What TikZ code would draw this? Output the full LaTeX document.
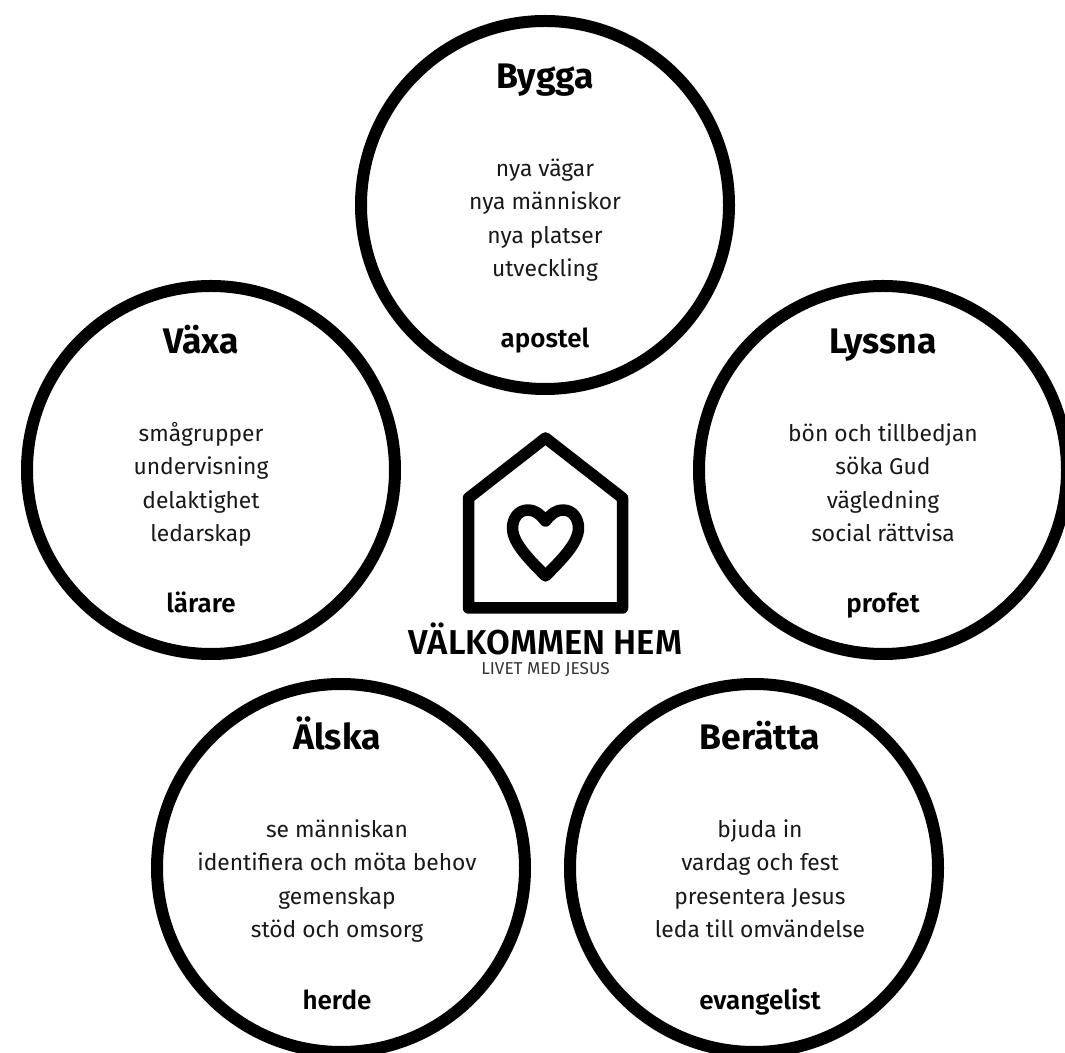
\documentclass[tikz,border=0pt]{standalone}
\usepackage{fontspec}
\setmainfont{Fira Sans}
\newfontfamily\semib{Fira Sans SemiBold}
\newcommand{\ringblock}[9]{%
  % #1 name, #2 ring cx, #3 ring cy, #4 title, #5-#8 lines, #9 role; text centre is \textcx,\textcy
  \node[ring] (#1) at (#2,#3) {};
  \node[titletext] (#1t) at (\textcx,\textcy+118) {#4};
  \node[bodytext] (#1a) at (\textcx,\textcy+30) {#5};
  \node[bodytext] (#1b) at (\textcx,\textcy-3) {#6};
  \node[bodytext] (#1c) at (\textcx,\textcy-37) {#7};
  \node[bodytext] (#1d) at (\textcx,\textcy-70) {#8};
  \node[roletext] (#1r) at (\textcx,\textcy-141) {#9};
}
\tikzset{
  ring/.style={circle,draw=black,line width=12pt,fill=white,minimum size=368pt,inner sep=0pt,outer sep=0pt},
  titletext/.style={anchor=base,inner sep=0pt,font=\fontsize{35.5}{36}\selectfont\bfseries},
  bodytext/.style={anchor=base,inner sep=0pt,text=black!90,font=\fontsize{22.8}{23}\selectfont},
  roletext/.style={anchor=base,inner sep=0pt,font=\fontsize{26}{26}\semib},
  logoline/.style={draw=black,line width=11.5pt,line join=round},
  logotitle/.style={anchor=base,inner sep=0pt,font=\fontsize{34.5}{35}\semib},
  logosub/.style={anchor=base,inner sep=0pt,text=black!80,font=\fontsize{17.2}{17}\selectfont},
}
\begin{document}
\begin{tikzpicture}[x=1pt,y=1pt]
\useasboundingbox (0,0) rectangle (1065,1052);
\fill[white] (0,0) rectangle (1065,1052);
\begin{scope}
\clip (0,0) rectangle (1065,1052);
\def\textcx{545}\def\textcy{845}
\ringblock{bygga}{545}{847}{Bygga}{nya vägar}{nya människor}{nya platser}{utveckling}{apostel}
\def\textcx{201}\def\textcy{580.5}
\ringblock{vaxa}{211}{582}{Växa}{smågrupper}{undervisning}{delaktighet}{ledarskap}{lärare}
\def\textcx{883}\def\textcy{580.5}
\ringblock{lyssna}{883}{582}{Lyssna}{bön och tillbedjan}{söka Gud}{vägledning}{social rättvisa}{profet}
\def\textcx{337}\def\textcy{184}
\ringblock{alska}{341}{184}{Älska}{se människan}{identifiera och möta behov}{gemenskap}{stöd och omsorg}{herde}
\def\textcx{760}\def\textcy{184}
\ringblock{beratta}{754}{184}{Berätta}{bjuda in}{vardag och fest}{presentera Jesus}{leda till omvändelse}{evangelist}
\end{scope}
\begin{scope}[yshift=1052pt,y=-1pt]
% house
\draw[logoline] (545.5,438) -- (622.5,498) -- (622.5,608) -- (468.5,608) -- (468.5,498) -- cycle;
% heart
\draw[logoline] (545.5,521)
  .. controls (539,513) and (534,510) .. (528,510)
  .. controls (518,510) and (512.5,519) .. (512.5,528)
  .. controls (512.5,544) and (532,562) .. (545.5,576)
  .. controls (559,562) and (578.5,544) .. (578.5,528)
  .. controls (578.5,519) and (573,510) .. (563,510)
  .. controls (557,510) and (552,513) .. (545.5,521) -- cycle;
\node[logotitle] (logoa) at (545.5,655) {VÄLKOMMEN HEM};
\node[logosub] (logob) at (545.5,675) {LIVET MED JESUS};
\end{scope}
\end{tikzpicture}
\end{document}
